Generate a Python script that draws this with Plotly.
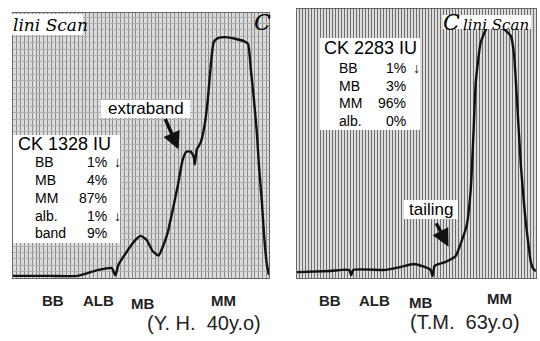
import plotly.graph_objects as go

# ---------------- data (scan position 0-100, relative density 0-100) -------------
left_pos = [0, 14.5, 25.1, 33.0, 38.5, 40.0, 41.2, 44.5, 47.5, 49.8, 52.2, 54.5, 56.9,
            58.8, 60.4, 62.4, 64.3, 66.3, 67.8, 69.4, 70.6, 71.0, 71.8, 73.3, 74.9, 76.1,
            77.3, 78.4, 80.0, 83.1, 87.1, 90.2, 91.8, 92.9, 94.1, 95.3, 96.1, 97.3, 98.0,
            99.2, 100]
left_density = [0.8, 0.8, 0.8, 3.0, 3.8, 1.0, 5.0, 10.0, 14.0, 15.9, 14.4, 10.2, 8.5,
                12.5, 17.0, 25.8, 34.5, 44.7, 47.7, 47.7, 45.8, 42.8, 48.5, 51.1, 58.0, 67.4,
                80.7, 89.0, 90.5, 90.9, 90.2, 89.4, 88.3, 78.8, 67.4, 54.2, 42.0, 27.7, 17.0,
                4.9, 1.1]

right_pos = [0, 13.9, 21.8, 22.7, 23.5, 37.0, 43.3, 48.7, 53.4, 55.9, 56.7, 57.6, 62.2,
             66.4, 68.5, 71.0, 72.7, 73.9, 74.8, 76.9, 79.8, 83.2, 86.6, 89.5, 90.8, 91.6,
             93.7, 95.4, 96.6, 97.9, 99.2, 100]
right_density = [2.2, 2.6, 3.0, 1.1, 3.0, 3.0, 4.1, 5.2, 4.1, 3.0, 0.7, 4.5, 6.0,
                 8.2, 12.8, 19.5, 33.0, 55.0, 72.8, 87.7, 93.3, 93.3, 92.5, 89.9, 83.2, 72.8,
                 41.4, 23.5, 14.2, 5.6, 3.0, 2.6]

fractions = ["BB", "ALB", "MB", "MM"]
left_frac_pos = [15.7, 33.3, 50.6, 82.4]
right_frac_pos = [13.9, 32.4, 51.7, 84.9]

left_table_labels = ["BB", "MB", "MM", "alb.", "band"]
left_table_values = ["1%", "4%", "87%", "1%", "9%"]
left_table_flags = ["↓", "", "", "↓", ""]
right_table_labels = ["BB", "MB", "MM", "alb."]
right_table_values = ["1%", "3%", "96%", "0%"]
right_table_flags = ["↓", "", "", ""]

W, H = 540, 341
def X(px):
    return px / W
def Y(py):
    return 1 - py / H

FONT = "Liberation Sans, Arial, sans-serif"

fig = go.Figure()
fig.add_trace(go.Scatter(x=left_pos, y=left_density, mode="lines",
                         line=dict(color="#111", width=2.4, shape="spline", smoothing=0.5),
                         xaxis="x", yaxis="y", hoverinfo="skip", showlegend=False))
fig.add_trace(go.Scatter(x=right_pos, y=right_density, mode="lines",
                         line=dict(color="#111", width=2.4, shape="spline", smoothing=0.5),
                         xaxis="x2", yaxis="y2", hoverinfo="skip", showlegend=False))

common = dict(showticklabels=False, ticks="", zeroline=False, fixedrange=True,
              showline=True, linecolor="#666", linewidth=1, mirror=True)
fig.update_layout(
    width=W, height=H, margin=dict(l=0, r=0, t=0, b=0),
    paper_bgcolor="white", plot_bgcolor="#dcdcdc",
    xaxis=dict(domain=[X(13), X(269)], range=[0, 100], showgrid=True, dtick=1.5,
               gridcolor="#8c8c8c", gridwidth=1, **common),
    yaxis=dict(domain=[Y(278), Y(13)], range=[0, 100], showgrid=True, dtick=2.4,
               gridcolor="#b0b0b0", gridwidth=1, **common),
    xaxis2=dict(domain=[X(297), X(536)], range=[0, 100], showgrid=True, dtick=1.25,
                gridcolor="#6e6e6e", gridwidth=1, anchor="y2", **common),
    yaxis2=dict(domain=[Y(278), Y(9)], range=[0, 100], showgrid=False, anchor="x2", **common),
)

shapes = []
ann = []

def box(x0, y0, x1, y1):
    shapes.append(dict(type="rect", xref="paper", yref="paper", x0=X(x0), x1=X(x1),
                       y0=Y(y1), y1=Y(y0), fillcolor="white", line=dict(width=0), layer="above"))

def text(t, x, y, size=14, anchor="left", bold=False, color="#000", family=FONT):
    if bold:
        t = "<b>" + t + "</b>"
    ann.append(dict(text=t, x=X(x), y=Y(y), xref="paper", yref="paper", showarrow=False,
                    xanchor=anchor, yanchor="middle", font=dict(size=size, color=color, family=family)))

# left scan panel
box(10, 14, 83, 35)
text("<i>lini Scan</i>", 11, 25, size=17, family="DejaVu Serif, serif")
text("<i>C</i>", 262, 23, size=22, anchor="center", family="DejaVu Serif, serif")
box(13, 135, 120, 243)
text("CK 1328 IU", 16, 144, size=18)
row_y = [162, 180, 198, 216, 233]
for lab, val, fl, yy in zip(left_table_labels, left_table_values, left_table_flags, row_y):
    text(lab, 33, yy, size=14)
    text(val, 109, yy, size=14, anchor="right")
    if fl:
        text(fl, 117, yy, size=14, anchor="center")
box(101, 100, 190, 118)
text("extraband", 146, 109, size=17, anchor="center")

# right scan panel
box(443, 15, 531, 29)
text("<i>C</i>", 451, 23, size=22, anchor="center", family="DejaVu Serif, serif")
text("<i>lini Scan</i>", 461, 25, size=15, family="DejaVu Serif, serif")
box(320, 38, 420, 130)
text("CK 2283 IU", 322, 48, size=18)
row_y2 = [68, 86, 103, 121]
for lab, val, fl, yy in zip(right_table_labels, right_table_values, right_table_flags, row_y2):
    text(lab, 337, yy, size=14)
    text(val, 408, yy, size=14, anchor="right")
    if fl:
        text(fl, 416, yy, size=14, anchor="center")
box(404, 200, 458, 219)
text("tailing", 431, 209, size=17, anchor="center")

# arrows
ann.append(dict(x=64.7, y=48.5, xref="x", yref="y", ax=-14, ay=-32, text="",
                showarrow=True, arrowhead=2, arrowsize=1, arrowwidth=3.5, arrowcolor="#111"))
ann.append(dict(x=63.4, y=11.6, xref="x2", yref="y2", ax=-13, ay=-25, text="",
                showarrow=True, arrowhead=2, arrowsize=1, arrowwidth=3.5, arrowcolor="#111"))

# fraction labels under each scan
frac_y_left = [300, 300, 303, 300]
for f, p, yy in zip(fractions, left_frac_pos, frac_y_left):
    text(f, 13 + p * 2.56, yy, size=15, anchor="center", bold=True, color="#222")
frac_y_right = [300, 300, 302, 298]
for f, p, yy in zip(fractions, right_frac_pos, frac_y_right):
    text(f, 297 + p * 2.39, yy, size=15, anchor="center", bold=True, color="#222")

text("(Y. H.  40y.o)", 204, 323, size=20, anchor="center", color="#222")
text("(T.M.  63y.o)", 465, 322, size=20, anchor="center", color="#222")

fig.update_layout(shapes=shapes, annotations=ann)
fig.write_html("out.html", config={"displayModeBar": False},
               post_script="document.body.style.margin='0';document.body.style.overflow='hidden';")
